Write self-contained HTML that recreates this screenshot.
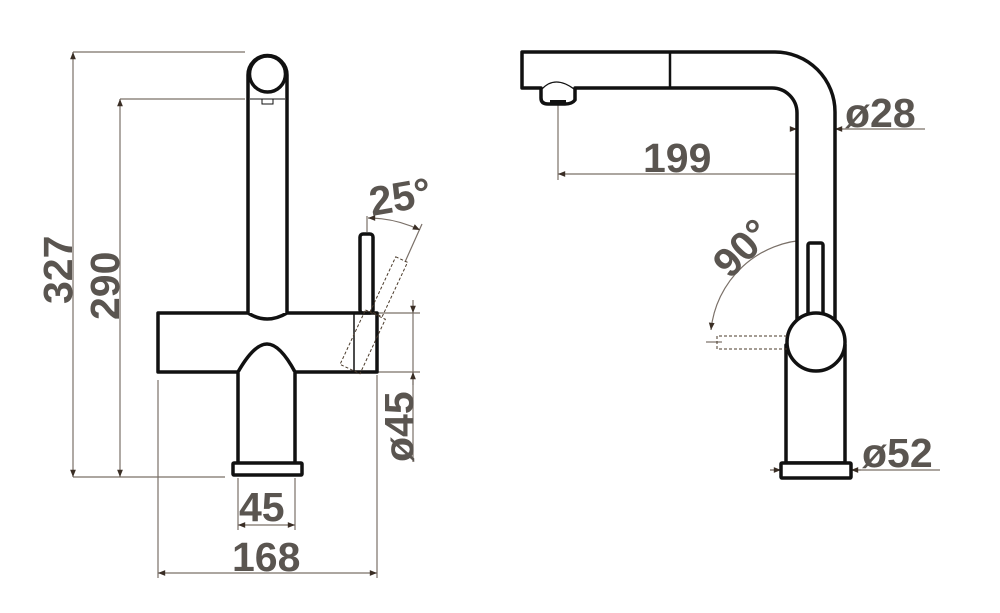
<!DOCTYPE html>
<html><head><meta charset="utf-8"><style>
html,body{margin:0;padding:0;background:#fff;}
svg{display:block}
text{font-family:"Liberation Sans",sans-serif;font-weight:bold;fill:#5a5550;font-size:41px}
</style></head><body>
<svg width="1000" height="613" viewBox="0 0 1000 613" xmlns="http://www.w3.org/2000/svg">
<defs>
<marker id="a" viewBox="0 0 10 10" refX="10" refY="5" markerWidth="8" markerHeight="6" orient="auto-start-reverse"><path d="M0,1 L10,5 L0,9 z" fill="#3a2e25"/></marker>
</defs>
<g stroke="#7a7068" stroke-width="1.2" fill="none">
<line x1="73" y1="52" x2="245" y2="52"/>
<line x1="120" y1="99" x2="245" y2="99"/>
<line x1="73" y1="477" x2="225" y2="477"/>
<line x1="73" y1="52" x2="73" y2="477" marker-start="url(#a)" marker-end="url(#a)"/>
<line x1="120" y1="99" x2="120" y2="477" marker-start="url(#a)" marker-end="url(#a)"/>
<line x1="238" y1="478" x2="238" y2="530"/>
<line x1="295" y1="478" x2="295" y2="530"/>
<line x1="238" y1="525" x2="295" y2="525" marker-start="url(#a)" marker-end="url(#a)"/>
<line x1="158" y1="380" x2="158" y2="578"/>
<line x1="377" y1="375" x2="377" y2="578"/>
<line x1="158" y1="573" x2="377" y2="573" marker-start="url(#a)" marker-end="url(#a)"/>
<line x1="377" y1="313" x2="420" y2="313"/>
<line x1="377" y1="372" x2="420" y2="372"/>
<line x1="413" y1="300" x2="413" y2="313" marker-end="url(#a)"/>
<line x1="413" y1="313" x2="413" y2="462"/>
<line x1="413" y1="385" x2="413" y2="372" marker-end="url(#a)"/>
<line x1="367" y1="216" x2="367" y2="232"/>
<line x1="422" y1="224" x2="405" y2="262"/>
<path d="M368,218 Q395,218 420,230" marker-start="url(#a)" marker-end="url(#a)"/>
<line x1="558" y1="103" x2="558" y2="180"/>
<line x1="816" y1="165" x2="816" y2="180"/>
<line x1="558" y1="174" x2="816" y2="174" marker-start="url(#a)" marker-end="url(#a)"/>
<line x1="790" y1="129" x2="925" y2="129"/>
<line x1="790" y1="129" x2="797" y2="129" marker-end="url(#a)"/>
<line x1="843" y1="129" x2="835" y2="129" marker-end="url(#a)"/>
<line x1="770" y1="470" x2="940" y2="470"/>
<line x1="770" y1="470" x2="781" y2="470" marker-end="url(#a)"/>
<line x1="861" y1="470" x2="851" y2="470" marker-end="url(#a)"/>
<line x1="816" y1="234" x2="816" y2="246"/>
<line x1="706" y1="342" x2="722" y2="342"/>
<path d="M808,240 A100,100 0 0 0 711,330" marker-start="url(#a)" marker-end="url(#a)"/>
</g>
<g stroke="#111" stroke-width="3.5" fill="#fff" stroke-linejoin="round">
<path d="M158,313 L248,313 Q267,325 287,313 L377,313 L377,372 L295,372 Q280,344 267,344 Q254,344 238,372 L158,372 Z"/>
<path d="M248,313 L248,75 A19.5,19.5 0 0 1 287,75 L287,313"/>
<circle cx="267.5" cy="74" r="18"/>
<rect x="238" y="372" width="57" height="91" stroke="none"/>
<path d="M238,372 L238,463 M295,372 L295,463" fill="none"/>
<rect x="233" y="463" width="69" height="12" rx="1"/>
<rect x="360" y="234" width="13" height="79" rx="3"/>
<line x1="354" y1="314" x2="354" y2="371" stroke-width="1.5"/>
</g>
<g stroke="#111" stroke-width="1" fill="none">
<path d="M250,99 L285,99 M262,99 L262,104 L273,104 L273,99"/>
</g>
<g stroke="#4a3a2a" stroke-width="1" fill="none" stroke-dasharray="3,2">
<rect x="360" y="252" width="13" height="60" transform="rotate(25 367 335)"/>
<rect x="355" y="313" width="22" height="60" transform="rotate(25 367 335)"/>
</g>
<g stroke="#111" stroke-width="3.5" fill="#fff" stroke-linejoin="round">
<path d="M522,52 L775,52 A60,60 0 0 1 835,112 L835,320 L797,320 L797,113 A25,25 0 0 0 772,88 L575,88 L575,100 Q572,104 565,104 L548,104 Q541,104 541,98 L541,88 L522,88 Z"/>
<line x1="670" y1="52" x2="670" y2="88" stroke-width="2.5"/>
<rect x="808" y="243" width="15" height="78" rx="2"/>
<rect x="786" y="345" width="59" height="118"/>
<circle cx="816" cy="342" r="29"/>
<rect x="781" y="463" width="70" height="15" rx="1"/>
<rect x="550" y="100" width="16" height="4" fill="#111" stroke="none"/>
</g>
<path d="M542,89 Q555,75 574,89" stroke="#111" stroke-width="1.2" fill="none"/>
<g stroke="#4a3a2a" stroke-width="1" fill="none" stroke-dasharray="3,2">
<path d="M787,336 L717,336 L717,349 L787,349"/>
</g>
<text transform="translate(72,304) rotate(-90)">327</text>
<text transform="translate(119,320) rotate(-90)">290</text>
<text x="239" y="521">45</text>
<text x="232" y="571">168</text>
<text transform="translate(413,462) rotate(-90)">ø45</text>
<text transform="translate(372,216) rotate(-10)">25°</text>
<text x="643" y="172">199</text>
<text x="845" y="127">ø28</text>
<text x="862" y="467">ø52</text>
<text transform="translate(730,280) rotate(-45)">90°</text>
</svg>
</body></html>
